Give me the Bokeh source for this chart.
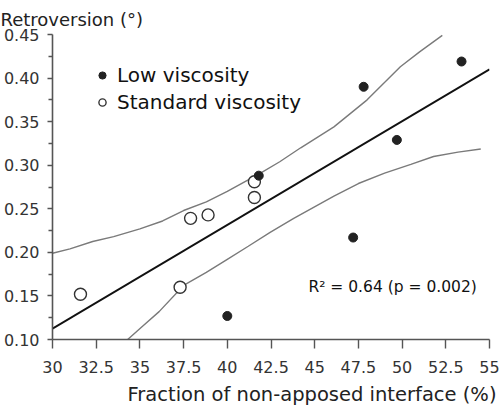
from bokeh.plotting import figure
from bokeh.models import Range1d, FixedTicker, Legend, LegendItem, Label, Title
from bokeh.embed import file_html
from bokeh.resources import INLINE

# ---- data ----
low_x = [40.0, 41.8, 47.8, 49.7, 53.4, 47.2]
low_y = [0.127, 0.288, 0.390, 0.329, 0.419, 0.217]

std_x = [31.6, 37.3, 37.9, 38.9, 41.55, 41.55]
std_y = [0.152, 0.160, 0.239, 0.243, 0.281, 0.263]

fit_x = [30.0, 55.0]
fit_y = [0.1125, 0.410]

upper_x = [30.0, 31.0, 32.3, 33.5, 35.0, 36.3, 37.5, 38.8, 40.0, 41.9, 43.0, 44.2, 46.1, 48.0, 49.9, 51.0, 52.3]
upper_y = [0.199, 0.204, 0.2125, 0.218, 0.227, 0.236, 0.248, 0.258, 0.270, 0.291, 0.304, 0.320, 0.344, 0.375, 0.413, 0.430, 0.449]

lower_x = [34.3, 35.2, 36.1, 37.5, 38.8, 40.0, 41.2, 42.45, 43.8, 46.1, 47.5, 49.0, 50.5, 51.8, 53.2, 54.5]
lower_y = [0.100, 0.116, 0.132, 0.162, 0.177, 0.192, 0.207, 0.223, 0.239, 0.2645, 0.279, 0.291, 0.301, 0.310, 0.315, 0.3186]

x_ticks = [30, 32.5, 35, 37.5, 40, 42.5, 45, 47.5, 50, 52.5, 55]
x_tick_labels = ["30", "32.5", "35", "37.5", "40", "42.5", "45", "47.5", "50", "52.5", "55"]
y_ticks = [0.10, 0.15, 0.20, 0.25, 0.30, 0.35, 0.40, 0.45]
y_tick_labels = ["0.10", "0.15", "0.20", "0.25", "0.30", "0.35", "0.40", "0.45"]
y_minor = [0.125, 0.175, 0.225, 0.275, 0.325, 0.375, 0.425]

series_names = ["Low viscosity", "Standard viscosity"]
title_text = "Retroversion (°)"
x_label = "Fraction of non-apposed interface (%)"
stat_text = "R² = 0.64 (p = 0.002)"
stat_x, stat_y = 44.64, 0.160

FONT = "DejaVu Sans"
AXC = "#555555"

p = figure(width=500, height=410, output_backend="svg", toolbar_location=None,
           x_range=Range1d(30, 55), y_range=Range1d(0.10, 0.45),
           min_border_left=50, min_border_right=11, min_border_top=34, min_border_bottom=69)
p.outline_line_color = None
p.xgrid.grid_line_color = None
p.ygrid.grid_line_color = None
p.background_fill_color = "white"

p.title.text = title_text
p.title.text_font = FONT
p.title.text_font_size = "18px"
p.title.text_font_style = "normal"
p.title.text_color = "#222222"
p.title.align = "left"
p.title.offset = -52
p.title.standoff = 10

xtitle = Title(text=x_label, align="right", offset=-7, standoff=10,
               text_font=FONT, text_font_size="19.5px", text_font_style="normal",
               text_color="#222222")
p.add_layout(xtitle, "below")

# axes
xa = p.xaxis[0]
xa.ticker = FixedTicker(ticks=x_ticks, minor_ticks=[])
xa.major_label_overrides = {t: l for t, l in zip(x_ticks, x_tick_labels)}
xa.major_tick_out = 9
xa.major_tick_in = 0
xa.minor_tick_out = 0
xa.major_label_standoff = 12

ya = p.yaxis[0]
ya.ticker = FixedTicker(ticks=y_ticks, minor_ticks=y_minor)
ya.major_label_overrides = {t: l for t, l in zip(y_ticks, y_tick_labels)}
ya.major_tick_out = 5
ya.major_tick_in = 0
ya.minor_tick_out = 4
ya.minor_tick_in = 0
ya.major_label_standoff = 8

for ax in (xa, ya):
    ax.axis_line_color = AXC
    ax.axis_line_width = 1.6
    ax.major_tick_line_color = AXC
    ax.major_tick_line_width = 1.4
    ax.minor_tick_line_color = AXC
    ax.minor_tick_line_width = 1.4
    ax.major_label_text_font = FONT
    ax.major_label_text_font_size = "16px"
    ax.major_label_text_color = "#333333"

# confidence bands and fit
p.line(upper_x, upper_y, line_color="#7a7a7a", line_width=1.4)
p.line(lower_x, lower_y, line_color="#7a7a7a", line_width=1.4)
p.line(fit_x, fit_y, line_color="#111111", line_width=1.8)

r_std = p.scatter(std_x, std_y, marker="circle", size=12, fill_color="white",
                  line_color="#333333", line_width=1.4)
r_low = p.scatter(low_x, low_y, marker="circle", size=9, fill_color="#222222",
                  line_color="#222222", line_width=1)

legend = Legend(items=[LegendItem(label=series_names[0], renderers=[r_low]),
                       LegendItem(label=series_names[1], renderers=[r_std])],
                location=(41, 225), orientation="vertical")
legend.background_fill_alpha = 0
legend.border_line_alpha = 0
legend.label_text_font = FONT
legend.label_text_font_size = "20px"
legend.label_text_color = "#111111"
legend.glyph_width = 18
legend.glyph_height = 24
legend.label_height = 24
legend.label_standoff = 6
legend.spacing = 3
legend.padding = 0
legend.margin = 0
p.add_layout(legend, "center")

stat = Label(x=stat_x, y=stat_y, text=stat_text, text_font=FONT, text_font_size="15.5px",
             text_color="#111111", text_baseline="alphabetic")
p.add_layout(stat)

open("out.html", "w").write(file_html(p, INLINE))
